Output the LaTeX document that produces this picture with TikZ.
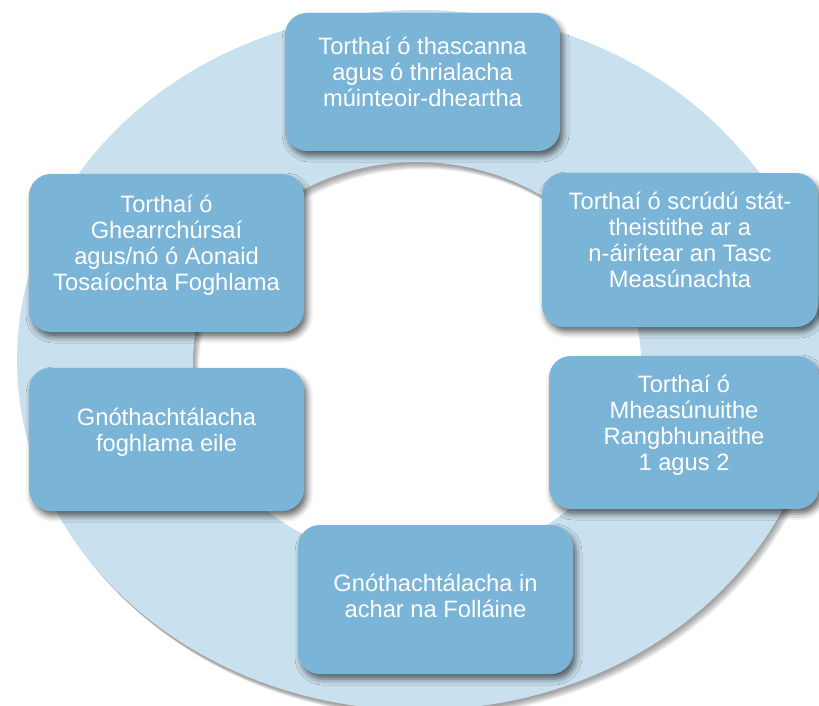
\documentclass[tikz,border=0pt]{standalone}
\usepackage{fontspec}
\setmainfont{Liberation Sans}
\usepackage{tikz}
\usetikzlibrary{shadows.blur}
\definecolor{ringblue}{RGB}{201,225,238}
\definecolor{boxblue}{RGB}{122,180,215}

\begin{document}
\begin{tikzpicture}[x=1pt, y=-1pt,
		box/.style={rectangle, fill=boxblue, rounded corners=22pt, minimum width=275pt,
			align=center, text=white, font=\fontsize{23.7}{26}\selectfont, text depth=20pt,
			blur shadow={shadow xshift=3pt, shadow yshift=-5pt, shadow blur radius=6pt, shadow opacity=60}}]
				\useasboundingbox (0,0) rectangle (819,706);
				
				% Ring shadow
				\foreach \d in {1,2,...,6}
					\fill[black, opacity=0.07, even odd rule, shift={(\d,\d+1)}]
						(419,360) ellipse [x radius=402, y radius=350]
						(417,362) ellipse [x radius=224, y radius=200];
				% Ring
				\fill[ringblue, even odd rule]
					(419,360) ellipse [x radius=402, y radius=350]
					(417,362) ellipse [x radius=224, y radius=200];
				
				% Boxes
				\node (box1) [box, minimum height=138pt] at (422.5,82) {Torthaí ó thascanna\\agus ó thrialacha\\múinteoir-dheartha};
				\node (box2) [box, minimum height=154pt, minimum width=276pt] at (680,250) {Torthaí ó scrúdú stát-\\theistithe ar a\\n-áirítear an Tasc\\Measúnachta};
				\node (box3) [box, minimum height=153pt, minimum width=270pt] at (684,432.5) {Torthaí ó\\Mheasúnuithe\\Rangbhunaithe\\1 agus 2};
				\node (box4) [box, minimum height=149pt, text depth=8pt] at (435.5,599.5) {Gnóthachtálacha in\\achar na Folláine};
				\node (box5) [box, minimum height=143pt] at (166.5,439.5) {Gnóthachtálacha\\foghlama eile};
				\node (box6) [box, minimum height=158pt] at (166.5,253) {Torthaí ó\\Ghearrchúrsaí\\agus/nó ó Aonaid\\Tosaíochta Foghlama};
		\end{tikzpicture}
\end{document}
